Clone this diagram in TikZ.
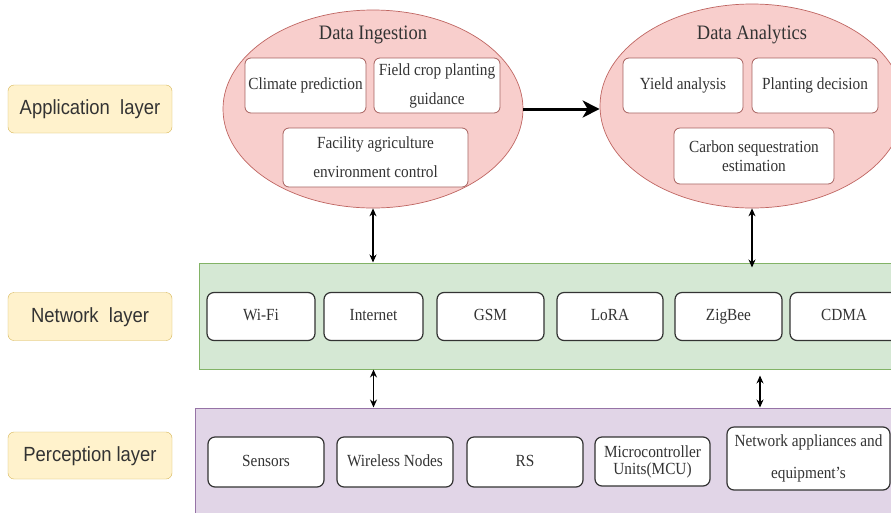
\documentclass[tikz,border=0pt]{standalone}
\usepackage{fontspec}
\setmainfont{Liberation Serif}[FakeStretch=0.9]
\newfontfamily\labelfont{Liberation Sans}[FakeStretch=0.9]
\usetikzlibrary{arrows.meta,shapes.geometric}

\definecolor{appfill}{HTML}{FFF2CC}
\definecolor{appline}{HTML}{D6B656}
\definecolor{redfill}{HTML}{F8CECC}
\definecolor{redline}{HTML}{B85450}
\definecolor{grnfill}{HTML}{D5E8D4}
\definecolor{grnline}{HTML}{82B366}
\definecolor{purfill}{HTML}{E1D5E7}
\definecolor{purline}{HTML}{9673A6}
\definecolor{ink}{HTML}{333333}

\tikzset{
  layerlabel/.style={draw=appline, fill=appfill, rounded corners=6pt,
    minimum width=164, minimum height=48, inner sep=0, text=ink,
    text height=15pt, text depth=4pt,
    font=\labelfont\fontsize{20.5}{24}\selectfont},
  blob/.style={ellipse, draw=redline!90, fill=redfill, inner sep=0, line width=0.7pt},
  blobtitle/.style={inner sep=0, text=ink, font=\fontsize{20.5}{24}\selectfont},
  ellbox/.style={draw=redline!70!gray, fill=white, rounded corners=6pt,
    inner sep=0, align=center, text=ink, line width=0.8pt,
    font=\fontsize{17}{29}\selectfont},
  band/.style={rectangle, inner sep=0, line width=1pt},
  itembox/.style={draw=ink, fill=white, rounded corners=7pt, inner sep=0,
    align=center, text=ink, line width=1.2pt,
    font=\fontsize{17}{20}\selectfont},
  oneline/.style={text height=12pt, text depth=4pt},
  dbl/.style={{Stealth[length=8pt,width=7pt]}-{Stealth[length=8pt,width=7pt]},
    line width=1.2pt, draw=black},
  flow/.style={-{Stealth[length=17pt,width=17pt,inset=5pt]}, line width=3pt, draw=black}
}

\begin{document}
\begin{tikzpicture}[x=1pt,y=-1pt]
  \useasboundingbox (0,0) rectangle (891,512);
  \clip (0,0) rectangle (891,512);
  \fill[white] (0,0) rectangle (891,512);

  % layer labels on the left
  \node[layerlabel] (applbl) at (90,109)   {Application\ \ layer};
  \node[layerlabel] (netlbl) at (90,316.5) {Network\ \ layer};
  \node[layerlabel, minimum height=47] (perlbl) at (90,455.5) {Perception layer};

  % application layer: two ellipses
  \node[blob, minimum width=300, minimum height=198] (ing) at (373,109) {};
  \node[blob, minimum width=304, minimum height=204] (ana) at (752,106) {};
  \node[blobtitle] (ingt) at (373,35) {Data Ingestion};
  \node[blobtitle] (anat) at (752,35) {Data Analytics};

  \node[ellbox, oneline, minimum width=121, minimum height=55] (climate) at (305.5,85.5) {Climate prediction};
  \node[ellbox, minimum width=126, minimum height=55] (field) at (437,85.5) {Field crop planting\\guidance};
  \node[ellbox, minimum width=185, minimum height=59] (facility) at (375.5,157.5) {Facility agriculture\\environment control};

  \node[ellbox, oneline, minimum width=120, minimum height=55] (yield) at (683,85.5) {Yield analysis};
  \node[ellbox, oneline, minimum width=126, minimum height=55] (plant) at (815,85.5) {Planting decision};
  \node[ellbox, minimum width=160, minimum height=56, font=\fontsize{17}{19}\selectfont] (carbon) at (754,156) {Carbon sequestration\\estimation};

  % network layer band
  \node[band, draw=grnline, fill=grnfill, minimum width=710, minimum height=106] (net) at (554,316) {};
  \node[itembox, oneline, minimum width=108, minimum height=48] (wifi) at (261,316.5) {Wi-Fi};
  \node[itembox, oneline, minimum width=99,  minimum height=48] (inet) at (373.5,316.5) {Internet};
  \node[itembox, oneline, minimum width=107, minimum height=48] (gsm)  at (490.5,316.5) {GSM};
  \node[itembox, oneline, minimum width=106, minimum height=48] (lora) at (610,316.5) {LoRA};
  \node[itembox, oneline, minimum width=107, minimum height=48] (zig)  at (728.5,316.5) {ZigBee};
  \node[itembox, oneline, minimum width=108, minimum height=48] (cdma) at (844,316.5) {CDMA};

  % perception layer band
  \node[band, draw=purline, fill=purfill, minimum width=710, minimum height=114] (per) at (550,465) {};
  \node[itembox, oneline, minimum width=116, minimum height=50] (sens) at (266,462) {Sensors};
  \node[itembox, oneline, minimum width=116, minimum height=50] (wnod) at (395,462) {Wireless Nodes};
  \node[itembox, oneline, minimum width=116, minimum height=50] (rs)   at (525,462) {RS};
  \node[itembox, minimum width=115, minimum height=49, font=\fontsize{17}{17}\selectfont] (mcu) at (652.5,461.5) {Microcontroller\\Units(MCU)};
  \node[itembox, minimum width=163, minimum height=63, font=\fontsize{17}{32}\selectfont] (appl) at (808.5,458.5) {Network appliances and\\equipment's};

  % connectors
  \draw[flow] (ing.east) -- (ing.east -| ana.west);
  \draw[dbl] (ing.south) -- (ing.south |- net.north);
  \draw[dbl] (ana.south) -- ([yshift=-5pt]ana.south |- net.north);
  \draw[dbl] (inet.south |- net.south) -- (inet.south |- per.north);
  \coordinate (drop) at (760,0);
  \draw[dbl] ([yshift=-6pt]drop |- net.south) -- (drop |- per.north);
\end{tikzpicture}
\end{document}
